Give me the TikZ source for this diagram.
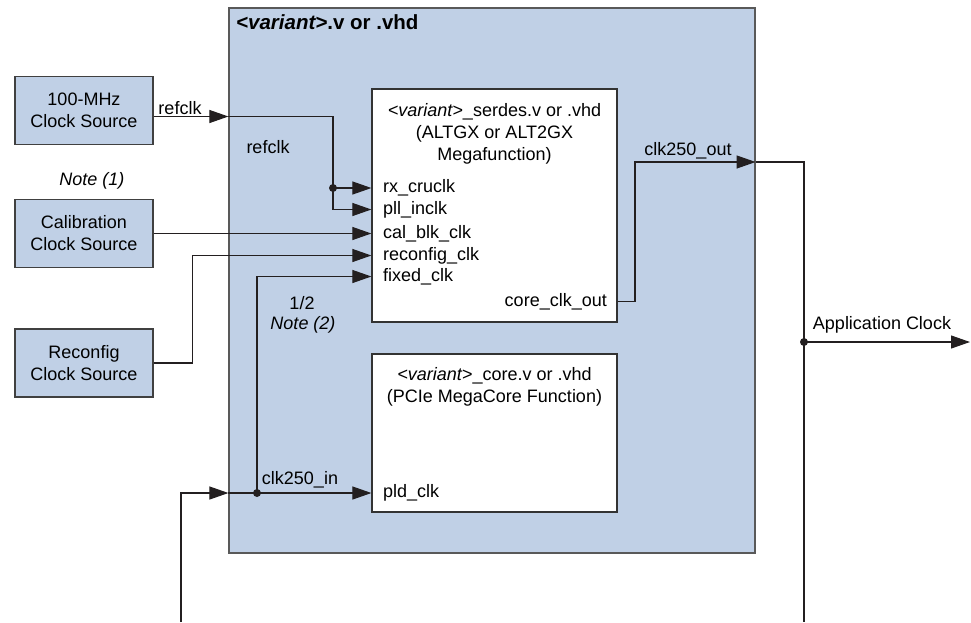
\documentclass[tikz,border=0pt]{standalone}
\usepackage{fontspec}
\setmainfont{Liberation Sans}
\usetikzlibrary{arrows.meta,calc,positioning}
\definecolor{boxblue}{RGB}{192,208,230}
\definecolor{wire}{RGB}{35,31,32}
\newcommand{\dfont}{\fontsize{18}{22}\selectfont}
\tikzset{
  srcbox/.style={draw=black!75, line width=1.2pt, fill=boxblue, minimum width=138pt, minimum height=68pt, align=center, inner sep=0pt},
  modbox/.style={draw=black!80, line width=1.2pt, fill=white, minimum width=245pt, inner sep=0pt},
  port/.style={anchor=west, inner sep=0pt, text height=13pt, text depth=4pt},
  lbl/.style={inner sep=0pt},
  sig/.style={line width=1.1pt, draw=wire},
  sigarr/.style={sig, -{Triangle[length=19pt,width=13pt]}},
}

\begin{document}
\begin{tikzpicture}[x=1pt,y=-1pt,font=\dfont]
        \useasboundingbox (0,0) rectangle (971,622);
        % Draw the top level file
        \node[srcbox, draw=black!65, minimum width=526pt, minimum height=545pt] (top) at (492,280.5) {};
        \node[anchor=base west, inner sep=0pt, font=\fontsize{20.5}{24}\selectfont\bfseries] (toptitle) at (236,29) {\textit{<variant>}.v or .vhd};
        % Clock sources
        \node[srcbox] (refsrc) at (84,110.5) {100-MHz\\Clock Source};
        \node[srcbox] (calsrc) at (84,233.5) {Calibration\\Clock Source};
        \node[srcbox] (recsrc) at (84,363) {Reconfig\\Clock Source};
        \node[lbl, font=\dfont\itshape] (note1) at (92,181) {Note (1)};
        % Draw the modules
        \node[modbox, minimum height=233pt] (serdes) at (494.5,205.5) {};
        \node[modbox, minimum height=158pt] (core) at (494.5,433) {};
        \node[lbl, anchor=north, align=center] (serdestitle) at (494.5,103) {\textit{<variant>}\_serdes.v or .vhd\\(ALTGX or ALT2GX\\Megafunction)};
        \node[lbl, anchor=north, align=center] (coretitle) at (494.5,367) {\textit{<variant>}\_core.v or .vhd\\(PCIe MegaCore Function)};
        % Ports
        \foreach \nm/\txt/\yy in {rx/rx\_cruclk/188, pll/pll\_inclk/209.5, cal/cal\_blk\_clk/233.5, rec/reconfig\_clk/255.5, fix/fixed\_clk/276.5, pld/pld\_clk/493}
          \node[port] (\nm) at (383,\yy) {\txt};
        \node[port, anchor=east] (cco) at (607,301.5) {core\_clk\_out};
        % refclk
        \coordinate (refout) at ($(refsrc.east)+(0,6)$);
        \coordinate (refin) at (top.west |- refout);
        \coordinate (refbend) at (333,116.5);
        \coordinate (rxdot) at (333,188);
        \draw[sigarr] (refout) -- (refin);
        \draw[sigarr] (refin) -- (refbend) |- (serdes.west |- pll.west);
        \draw[sigarr] (rxdot) -- (serdes.west |- rx.west);
        \fill[wire] (rxdot) circle (4pt);
        \node[lbl] (refclka) at (180,108) {refclk};
        \node[lbl] (refclkb) at (268,147) {refclk};
        % calibration and reconfig
        \draw[sigarr] (calsrc.east) -- (serdes.west |- cal.west);
        \coordinate (recbend) at ($(recsrc.east)+(39,0)$);
        \draw[sigarr] (recsrc.east) -- (recbend) |- (serdes.west |- rec.west);
        % clk250_in
        \coordinate (inbot) at (181,622);
        \coordinate (inbend) at (181,493);
        \coordinate (inport) at (top.west |- inbend);
        \coordinate (indot) at (257,493);
        \draw[sigarr] (inbot) -- (inbend) -- (inport);
        \draw[sigarr] (inport) -- (core.west |- pld.west);
        \draw[sigarr] (indot) |- (serdes.west |- fix.west);
        \fill[wire] (indot) circle (4pt);
        \node[lbl] (inlbl) at (300,480) {clk250\_in};
        \node[lbl] (half) at (302,303) {1/2};
        \node[lbl, font=\dfont\itshape] (note2) at (303,325) {Note (2)};
        % clk250_out
        \coordinate (outbend) at (635,162);
        \coordinate (outport) at (top.east |- outbend);
        \draw[sigarr] (serdes.east |- cco.east) -| (outbend) -- (outport);
        \node[lbl] (outlbl) at (688,151) {clk250\_out};
        % application clock
        \coordinate (appbend) at (804,162);
        \coordinate (appbot) at (804,622);
        \coordinate (appdot) at (804,342);
        \coordinate (append) at (970,342);
        \draw[sig] (outport) -- (appbend) -- (appbot);
        \draw[sigarr] (appdot) -- (append);
        \fill[wire] (appdot) circle (4pt);
        \node[lbl] (applbl) at (882,325) {Application Clock};
      \end{tikzpicture}
\end{document}
